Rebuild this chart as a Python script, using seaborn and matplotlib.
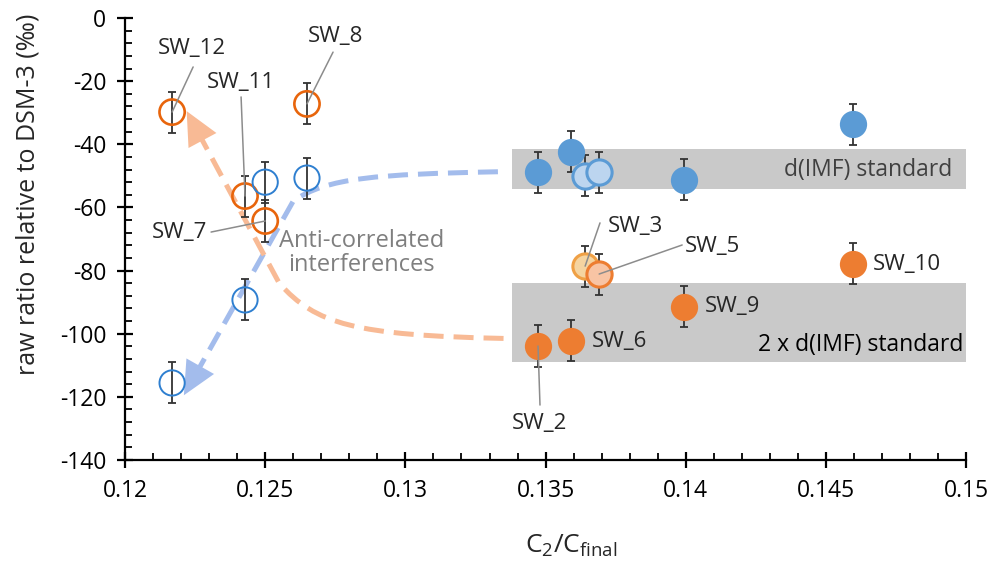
import numpy as np
import pandas as pd
import matplotlib
matplotlib.use("Agg")
import matplotlib.pyplot as plt
import matplotlib.ticker as ticker
from matplotlib.path import Path
from matplotlib.patches import PathPatch, FancyArrowPatch
import seaborn as sns

# --- data ---
open_x = [0.12168, 0.12428, 0.12500, 0.12649]
open_orange_y = [-29.8, -56.4, -64.3, -27.2]
open_orange_lab = ["SW_12", "SW_11", "SW_7", "SW_8"]
open_blue_y = [-115.6, -89.3, -52.0, -50.7]

filled_x = [0.13473, 0.13591, 0.13994, 0.14597]
filled_blue_y = [-48.8, -42.4, -51.3, -33.6]
filled_orange_y = [-103.9, -102.3, -91.5, -77.9]
filled_orange_lab = ["SW_2", "SW_6", "SW_9", "SW_10"]

light_x = [0.13641, 0.13691]
light_blue_y = [-50.0, -48.8]
light_orange_y = [-78.6, -81.1]
light_orange_lab = ["SW_3", "SW_5"]

err = 6.5

# grey bands (d(IMF) standard and 2 x d(IMF) standard)
band_x = [0.1338, 0.1500]
band1 = [-54.2, -41.5]
band2 = [-109.0, -84.0]

# guide curves (start, two bezier controls, bend end, arrow tip)
blue_curve_x = [0.1333, 0.1290, 0.1272, 0.1260, 0.1221]
blue_curve_y = [-48.7, -49.5, -50.5, -58.0, -119.5]
orange_curve_x = [0.1335, 0.1282, 0.1268, 0.1255, 0.1222]
orange_curve_y = [-101.5, -100.5, -97.0, -84.0, -29.5]

ORANGE = "#ED7D31"
BLUE = "#5B9BD5"
OPEN_BLUE = "#2E7FD0"
OPEN_ORANGE = "#E8650C"

sns.set_theme(style="ticks")
plt.rcParams["font.family"] = ["Open Sans", "DejaVu Sans"]
plt.rcParams["axes.unicode_minus"] = False

fig = plt.figure(figsize=(9.92, 5.63), dpi=100)
ax = fig.add_axes([0.126, 0.183, 0.848, 0.785])

# bands
for lo, hi in (band1, band2):
    ax.fill_between(band_x, lo, hi, color="#C9C9C9", lw=0, zorder=0.5)
ax.text(0.1495, -48.1, "d(IMF) standard", ha="right", va="center",
        fontsize=16.5, color="#404040", zorder=1)
ax.text(0.1499, -103.6, "2 x d(IMF) standard", ha="right", va="center",
        fontsize=16.5, color="black", zorder=1)


def guide(xs, ys, color):
    v = list(zip(xs, ys))
    codes = [Path.MOVETO, Path.CURVE4, Path.CURVE4, Path.CURVE4, Path.LINETO]
    # stop the dashed body a bit before the tip, the head covers the rest
    tip = np.array(v[-1])
    prev = np.array(v[-2])
    base = tip + (prev - tip) * 0.12
    verts = v[:-1] + [tuple(base)]
    ax.add_patch(PathPatch(Path(verts, codes), fill=False, edgecolor=color, lw=3.6,
                           linestyle=(0, (4, 2)), capstyle="butt", zorder=1.5))
    ax.add_patch(FancyArrowPatch(tuple(base), tuple(tip),
                                 arrowstyle="-|>,head_length=0.8,head_width=0.38",
                                 mutation_scale=30, color=color, lw=0, zorder=1.5,
                                 shrinkA=0, shrinkB=0))


guide(blue_curve_x, blue_curve_y, "#A3BCEC")
guide(orange_curve_x, orange_curve_y, "#F8BA95")

# error bars
all_x = open_x * 2 + filled_x * 2 + light_x * 2
all_y = open_orange_y + open_blue_y + filled_blue_y + filled_orange_y + light_blue_y + light_orange_y
ax.errorbar(all_x, all_y, yerr=err, fmt="none", ecolor="#333333", elinewidth=1.3,
            capsize=3, capthick=1.3, zorder=2)

df_open_o = pd.DataFrame({"x": open_x, "y": open_orange_y})
df_open_b = pd.DataFrame({"x": open_x, "y": open_blue_y})
df_fill_b = pd.DataFrame({"x": filled_x, "y": filled_blue_y})
df_fill_o = pd.DataFrame({"x": filled_x, "y": filled_orange_y})

S = 330
sns.scatterplot(data=df_fill_b, x="x", y="y", s=S, color=BLUE, edgecolor=BLUE, ax=ax, zorder=3)
sns.scatterplot(data=df_fill_o, x="x", y="y", s=S, color=ORANGE, edgecolor=ORANGE, ax=ax, zorder=3)
sns.scatterplot(data=pd.DataFrame({"x": light_x, "y": light_blue_y}), x="x", y="y", s=S,
                color="#BCD5EF", edgecolor="#5B9BD5", linewidth=2.2, ax=ax, zorder=3)
sns.scatterplot(x=light_x[:1], y=light_orange_y[:1], s=S, color="#F5D4A0",
                edgecolor="#EFA045", linewidth=2.2, ax=ax, zorder=3)
sns.scatterplot(x=light_x[1:], y=light_orange_y[1:], s=S, color="#F8C4A4",
                edgecolor=ORANGE, linewidth=2.2, ax=ax, zorder=3)
ax.scatter(df_open_o["x"], df_open_o["y"], s=S, facecolors="none", edgecolors=OPEN_ORANGE,
           linewidths=1.9, zorder=3)
ax.scatter(df_open_b["x"], df_open_b["y"], s=S, facecolors="none", edgecolors=OPEN_BLUE,
           linewidths=1.4, zorder=3)

# labels with leader lines: (text position, leader start or None, ha)
label_pts = dict(zip(open_orange_lab, zip(open_x, open_orange_y)))
label_pts.update(zip(filled_orange_lab, zip(filled_x, filled_orange_y)))
label_pts.update(zip(light_orange_lab, zip(light_x, light_orange_y)))

label_txt = {
    "SW_12": ((0.12239, -9.5), (0.12243, -15.5), "center"),
    "SW_11": ((0.12414, -20.3), (0.12414, -25.0), "center"),
    "SW_8": ((0.12749, -5.7), (0.12742, -10.8), "center"),
    "SW_7": ((0.12293, -68.1), (0.12307, -67.8), "right"),
    "SW_3": ((0.13723, -66.2), (0.13694, -64.9), "left"),
    "SW_5": ((0.13998, -72.5), (0.13987, -71.9), "left"),
    "SW_10": ((0.14668, -78.2), None, "left"),
    "SW_9": ((0.14069, -91.5), None, "left"),
    "SW_6": ((0.13666, -102.6), None, "left"),
    "SW_2": ((0.13480, -128.3), (0.13480, -122.6), "center"),
}
for lab, (tpos, lead, ha) in label_txt.items():
    ax.text(tpos[0], tpos[1], lab, ha=ha, va="center", fontsize=16, color="#262626", zorder=4)
    if lead is not None:
        px, py = label_pts[lab]
        ax.plot([lead[0], px], [lead[1], py], color="#8C8C8C", lw=1.1, zorder=3.5)

ax.text(0.12845, -74.5, "Anti-correlated\ninterferences", ha="center", va="center",
        fontsize=17, color="#7F7F7F", linespacing=1.0, zorder=4)

# axes
ax.set_xlim(0.12, 0.15)
ax.set_ylim(-140, 0)
ax.xaxis.set_major_locator(ticker.MultipleLocator(0.005))
ax.xaxis.set_minor_locator(ticker.MultipleLocator(0.001))
ax.yaxis.set_major_locator(ticker.MultipleLocator(20))
ax.yaxis.set_minor_locator(ticker.MultipleLocator(4))
ax.xaxis.set_major_formatter(ticker.FuncFormatter(lambda v, p: f"{v:g}"))
ax.yaxis.set_major_formatter(ticker.FuncFormatter(lambda v, p: f"{v:g}"))
ax.tick_params(which="major", direction="inout", length=11, width=1.6, labelsize=16.5,
               colors="black", pad=8)
ax.tick_params(which="minor", direction="in", length=5, width=1.3, colors="black")
for s in ("top", "right"):
    ax.spines[s].set_visible(False)
for s in ("left", "bottom"):
    ax.spines[s].set_linewidth(1.6)
    ax.spines[s].set_color("black")

ax.set_xlabel(r"$\mathregular{C_2/C_{final}}$", fontsize=19)
ax.set_ylabel("raw ratio relative to DSM-3 (‰)", fontsize=18)
ax.xaxis.set_label_coords(0.53, -0.165)
ax.yaxis.set_label_coords(-0.1, 0.6)
ax.grid(False)

fig.savefig("out.png", dpi=100)
